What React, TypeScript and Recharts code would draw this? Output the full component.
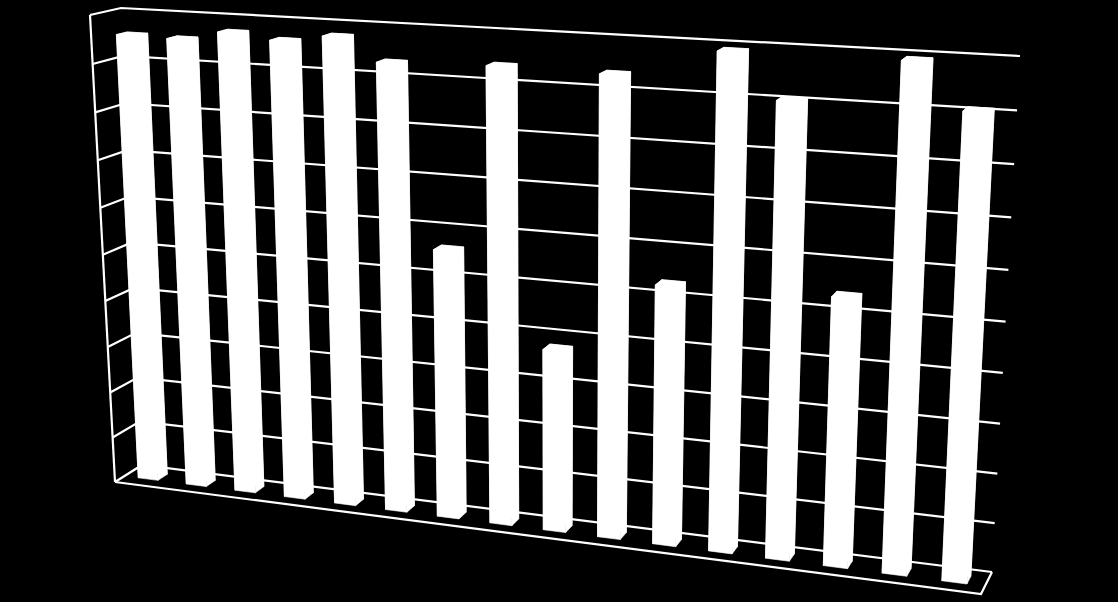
import React from "react";
import { BarChart, Bar, XAxis, YAxis, CartesianGrid } from "recharts";

const categories = ["1","2","3","4","5","6","7","8","9","10","11","12","13","14","15","16"];
const values = [95.65, 95.45, 97.4, 96.35, 97.8, 93.25, 56.3, 93.9, 37.9, 93.65, 53.2, 99.3, 90.7, 54, 99.5, 90.9];
const yTicks = [0, 10, 20, 30, 40, 50, 60, 70, 80, 90, 100];

const data = categories.map((name, i) => ({ name, value: values[i] }));

const W = 1118;
const H = 602;
type Pt = [number, number];

function quad(p0: Pt, p1: Pt, p2: Pt, p3: Pt) {
  const dx1 = p1[0] - p2[0], dx2 = p3[0] - p2[0], sx = p0[0] - p1[0] + p2[0] - p3[0];
  const dy1 = p1[1] - p2[1], dy2 = p3[1] - p2[1], sy = p0[1] - p1[1] + p2[1] - p3[1];
  const d = dx1 * dy2 - dx2 * dy1;
  const g = (sx * dy2 - dx2 * sy) / d;
  const h = (dx1 * sy - sx * dy1) / d;
  const a = p1[0] - p0[0] + g * p1[0], b = p3[0] - p0[0] + h * p3[0], c = p0[0];
  const e = p1[1] - p0[1] + g * p1[1], f = p3[1] - p0[1] + h * p3[1], k = p0[1];
  return (u: number, v: number): Pt => {
    const q = g * u + h * v + 1;
    return [(a * u + b * v + c) / q, (e * u + f * v + k) / q];
  };
}

// Perspective frame: bottom-left, bottom-right, top-right, top-left
const backWall = quad([142, 465], [992, 572], [1020, 56], [121, 8]);
const frontWall = quad([115, 482], [981, 594], [1006, 68], [90, 15]);

// depth: 0 = front of floor, 1 = back wall
const project = (u: number, v: number, depth: number): Pt => {
  const b = backWall(u, v);
  const f = frontWall(u, v);
  return [f[0] + (b[0] - f[0]) * depth, f[1] + (b[1] - f[1]) * depth];
};

const pathOf = (pts: Pt[], close = false) =>
  "M" + pts.map((p) => `${p[0].toFixed(2)},${p[1].toFixed(2)}`).join("L") + (close ? "Z" : "");

const BAR_NEAR = 0.35;
const BAR_FAR = 0.7;

function Column(props: any) {
  const { x, y, width, height } = props;
  const u0 = x / W, u1 = (x + width) / W;
  const vTop = 1 - y / H, vBase = 1 - (y + height) / H;
  const c = (u: number, v: number, w: number) => project(u, v, w);
  const faces: Pt[][] = [
    [c(u0, vBase, BAR_FAR), c(u1, vBase, BAR_FAR), c(u1, vTop, BAR_FAR), c(u0, vTop, BAR_FAR)],
    [c(u0, vBase, BAR_NEAR), c(u0, vBase, BAR_FAR), c(u0, vTop, BAR_FAR), c(u0, vTop, BAR_NEAR)],
    [c(u1, vBase, BAR_NEAR), c(u1, vBase, BAR_FAR), c(u1, vTop, BAR_FAR), c(u1, vTop, BAR_NEAR)],
    [c(u0, vTop, BAR_NEAR), c(u1, vTop, BAR_NEAR), c(u1, vTop, BAR_FAR), c(u0, vTop, BAR_FAR)],
    [c(u0, vBase, BAR_NEAR), c(u1, vBase, BAR_NEAR), c(u1, vTop, BAR_NEAR), c(u0, vTop, BAR_NEAR)],
  ];
  return (
    <g>
      {faces.map((f, i) => (
        <path key={i} d={pathOf(f, true)} fill="#ffffff" stroke="#ffffff" strokeWidth={0.6} />
      ))}
    </g>
  );
}

const LINE = { fill: "none", stroke: "#ffffff", strokeWidth: 2.2 };

function GridLine(props: any) {
  const { y1 } = props;
  const v = 1 - y1 / H;
  const isTop = v > 0.999;
  const isBottom = v < 0.001;
  return (
    <g key={props.key}>
      <path d={pathOf([project(0, v, 0), project(0, v, 1), project(1, v, 1)])} {...LINE} />
      {isTop && <path d={pathOf([project(0, 1, 0), project(0, 0, 0)])} {...LINE} />}
      {isBottom && <path d={pathOf([project(0, 0, 0), project(1, 0, 0), project(1, 0, 1)])} {...LINE} />}
    </g>
  );
}

export default function App() {
  return (
    <div style={{ position: "fixed", left: 0, top: 0, width: W, height: H, background: "#000000" }}>
      <BarChart
        width={W}
        height={H}
        data={data}
        margin={{ top: 0, right: 0, bottom: 0, left: 0 }}
        barCategoryGap="29%"
      >
        <XAxis dataKey="name" hide />
        <YAxis hide domain={[0, 100]} ticks={yTicks} />
        <CartesianGrid horizontal={GridLine} vertical={false} />
        <Bar dataKey="value" isAnimationActive={false} shape={Column} />
      </BarChart>
    </div>
  );
}
